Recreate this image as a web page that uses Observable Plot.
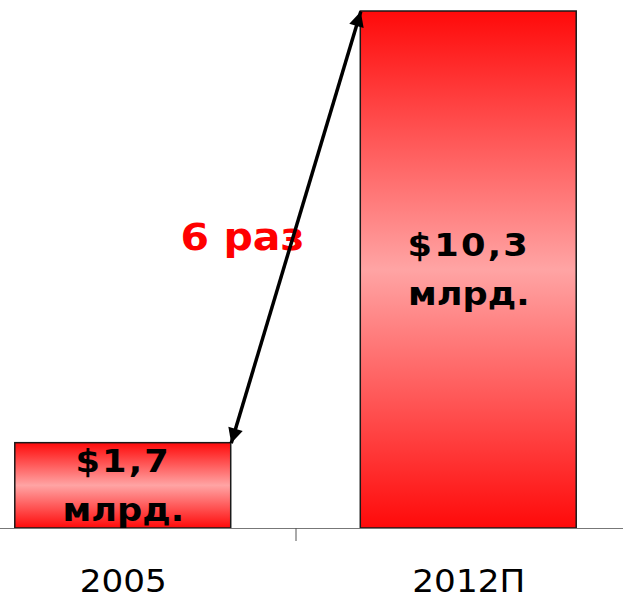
<!DOCTYPE html>
<html><head><meta charset="utf-8">
<script src="https://cdn.jsdelivr.net/npm/d3@7"></script>
<script src="https://cdn.jsdelivr.net/npm/@observablehq/plot@0.6"></script>
<style>html,body{margin:0;padding:0;background:#fff} svg{display:block}</style>
</head><body><div id="chart"></div>
<script>
// ---- data ----
const categories = ["2005", "2012П"];
const values = [1.7, 10.3];
const valueLabels = ["$1,7\nмлрд.", "$10,3\nмлрд."];
const ratioLabel = "6 раз";

const data = categories.map((c, i) => ({i, cat: c, value: values[i], label: valueLabels[i]}));
const half = 0.3125;            // half bar width in category units
const font = "DejaVu Sans, Verdana, sans-serif";

const plot = Plot.plot({
  width: 623,
  height: 600,
  marginTop: 11,
  marginBottom: 72,
  marginLeft: 0,
  marginRight: 0,
  style: {fontFamily: font, background: "#fff"},
  x: {type: "linear", domain: [-0.5, 1.5], range: [-50, 641], axis: null},
  y: {domain: [0, d3.max(values)], axis: null},
  marks: [
    Plot.rectY(data, {x1: d => d.i - half, x2: d => d.i + half, y: "value",
      fill: "url(#barGrad)", stroke: "#1a1a1a", strokeWidth: 1.5}),
    Plot.ruleY([0], {stroke: "#777", strokeWidth: 1}),
    Plot.axisX({ticks: [0.5], tickSize: 13, tickFormat: () => "", stroke: "#555", label: null}),
    Plot.axisX({ticks: d3.range(categories.length), tickSize: 0, tickPadding: 41, label: null,
      tickFormat: i => categories[i], fontSize: 32, fill: "#000", fontFamily: font,
      className: "cat-axis"}),
    Plot.text(data, {x: "i", y: d => d.value / 2, text: "label", fontSize: 32, dy: -5,
      fontWeight: "bold", lineHeight: 1.52, fill: "#000", fontFamily: font,
      className: "value-labels"}),
    Plot.text([ratioLabel], {x: 0.166, y: 5.78, text: d => d, textAnchor: "start",
      fontSize: 37, fontWeight: "bold", fill: "#f00", fontFamily: font,
      className: "ratio-label"}),
    Plot.link([0], {x1: () => 0 + half, y1: () => values[0], x2: () => 1 - half, y2: () => values[1],
      stroke: "#000", strokeWidth: 3.5, className: "ratio-arrow"})
  ]
});

// gradient + arrowhead definitions
const svg = d3.select(plot);
const defs = svg.insert("defs", ":first-child");
const g = defs.append("linearGradient").attr("id", "barGrad")
  .attr("x1", 0).attr("y1", 0).attr("x2", 0).attr("y2", 1);
g.append("stop").attr("offset", "0%").attr("stop-color", "#ff0a0a");
g.append("stop").attr("offset", "50%").attr("stop-color", "#ffa4a4");
g.append("stop").attr("offset", "100%").attr("stop-color", "#ff0a0a");
defs.append("marker").attr("id", "ah").attr("viewBox", "0 0 10 10")
  .attr("refX", 10).attr("refY", 5).attr("markerWidth", 17).attr("markerHeight", 15)
  .attr("markerUnits", "userSpaceOnUse").attr("orient", "auto-start-reverse")
  .append("path").attr("d", "M0,0L10,5L0,10z").attr("fill", "#000");
svg.selectAll(".ratio-arrow path, g.ratio-arrow path")
  .attr("marker-start", "url(#ah)").attr("marker-end", "url(#ah)");

// widen glyphs horizontally to mimic the original (wider) face
function widen(sel, s) {
  sel.each(function() {
    const t = this.getAttribute("transform");
    if (t) {
      this.setAttribute("transform", t + ` scale(${s},1)`);
    } else {
      const x = +this.getAttribute("x") || 0;
      this.setAttribute("transform", `translate(${x},0) scale(${s},1) translate(${-x},0)`);
    }
  });
}
svg.selectAll(".value-labels text").each(function() {
  d3.select(this).selectAll("tspan").filter((d, k) => k === 0).attr("letter-spacing", "2px");
});
widen(svg.selectAll(".value-labels text"), 1.1);
widen(svg.selectAll(".ratio-label text"), 1.11);
widen(svg.selectAll(".cat-axis text"), 1.07);

document.getElementById("chart").appendChild(plot);
</script>
</body></html>
